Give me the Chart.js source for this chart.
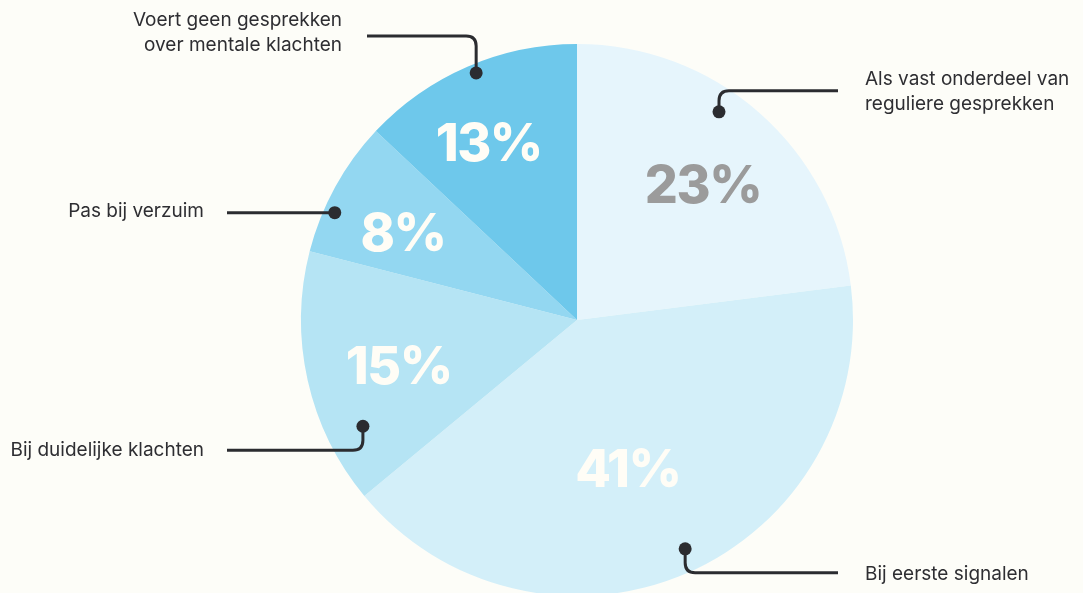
<!DOCTYPE html>
<html>
<head>
<meta charset="utf-8">
<script src="https://cdn.jsdelivr.net/npm/chart.js@4/dist/chart.umd.min.js"></script>
<style>
  html, body { margin: 0; padding: 0; background: #fdfdf8; overflow: hidden; }
  #wrap { position: relative; width: 1083px; height: 593px; }
</style>
</head>
<body>
<div id="wrap"><canvas id="c" width="1083" height="593"></canvas></div>
<script>
// ---- data ----
const categories = [
  ["Als vast onderdeel van", "reguliere gesprekken"],
  ["Bij eerste signalen"],
  ["Bij duidelijke klachten"],
  ["Pas bij verzuim"],
  ["Voert geen gesprekken", "over mentale klachten"]
];
const values = [23, 41, 15, 8, 13];
const sliceColors = ["#e6f5fc", "#d3eff9", "#b5e4f4", "#93d7f1", "#6ec8eb"];
const pctColors = ["#9b9b9b", "#fffdf6", "#fffdf6", "#fffdf6", "#fffdf6"];

// ---- layout of annotations (not data) ----
const pctLayout = [
  { da: 1.8, rf: 0.667 },
  { da: 4.6, rf: 0.572 },
  { da: -1.9, rf: 0.667 },
  { da: -2.2, rf: 0.705 },
  { da: -3.2, rf: 0.714 }
];
const callouts = [
  { da: -7.1, rf: 0.913, leg: -21, end: 261, side: 1, gap: 27, ldy: 0.5 },
  { da: -1.9, rf: 0.917, leg: 24, end: 261, side: 1, gap: 27, ldy: 1 },
  { da: -13.8, rf: 0.866, leg: 24, end: -350, side: -1, gap: 23, ldy: 0 },
  { da: -4.9, rf: 0.96, leg: 0, end: -350, side: -1, gap: 23, ldy: -1 },
  { da: 1.2, rf: 0.967, leg: -37, end: -210, side: -1, gap: 25, ldy: -3.5 }
];

const annotPlugin = {
  id: 'annot',
  afterDatasetsDraw(chart) {
    const ctx = chart.ctx;
    const meta = chart.getDatasetMeta(0);
    ctx.save();
    meta.data.forEach((arc, i) => {
      const cx = arc.x, cy = arc.y, R = arc.outerRadius;
      const mid = (arc.startAngle + arc.endAngle) / 2;
      const pl = pctLayout[i];
      const a1 = mid + pl.da * Math.PI / 180;
      const px = cx + R * pl.rf * Math.cos(a1);
      const py = cy + R * pl.rf * Math.sin(a1);
      ctx.font = "800 52px Inter, 'Noto Sans', sans-serif";
      ctx.letterSpacing = '-1.5px';
      ctx.fillStyle = pctColors[i];
      ctx.textAlign = 'center';
      ctx.textBaseline = 'middle';
      ctx.fillText(values[i] + '%', px, py + 2);
      ctx.letterSpacing = '0px';

      const co = callouts[i];
      const a2 = mid + co.da * Math.PI / 180;
      const dx = cx + R * co.rf * Math.cos(a2);
      const dy = cy + R * co.rf * Math.sin(a2);
      const ly = dy + co.leg;
      const ex = cx + co.end;
      const dir = Math.sign(ex - dx);
      const r = 10;
      ctx.strokeStyle = '#2b2c30';
      ctx.lineWidth = 3;
      ctx.beginPath();
      ctx.moveTo(dx, dy);
      if (co.leg !== 0) {
        const vs = Math.sign(co.leg);
        ctx.lineTo(dx, ly - vs * r);
        ctx.quadraticCurveTo(dx, ly, dx + dir * r, ly);
      }
      ctx.lineTo(ex, ly);
      ctx.stroke();
      ctx.fillStyle = '#2b2c30';
      ctx.beginPath();
      ctx.arc(dx, dy, 6.5, 0, Math.PI * 2);
      ctx.fill();

      const lines = categories[i];
      const lh = 25;
      ctx.font = "400 19px Inter, 'Noto Sans', sans-serif";
      ctx.fillStyle = '#2e2e32';
      ctx.textAlign = co.side > 0 ? 'left' : 'right';
      ctx.textBaseline = 'middle';
      const tx = ex + co.side * co.gap;
      const ty0 = ly + co.ldy - (lines.length - 1) * lh / 2;
      lines.forEach((t, k) => ctx.fillText(t, tx, ty0 + k * lh));
    });
    ctx.restore();
  }
};

new Chart(document.getElementById('c'), {
  type: 'pie',
  data: {
    labels: categories.map(c => c.join(' ')),
    datasets: [{
      data: values,
      backgroundColor: sliceColors,
      borderWidth: 0,
      radius: 276
    }]
  },
  options: {
    responsive: false,
    animation: false,
    layout: { padding: { left: 71, top: 47, right: 0, bottom: 0 } },
    plugins: { legend: { display: false }, tooltip: { enabled: false } }
  },
  plugins: [annotPlugin]
});
</script>
</body>
</html>
